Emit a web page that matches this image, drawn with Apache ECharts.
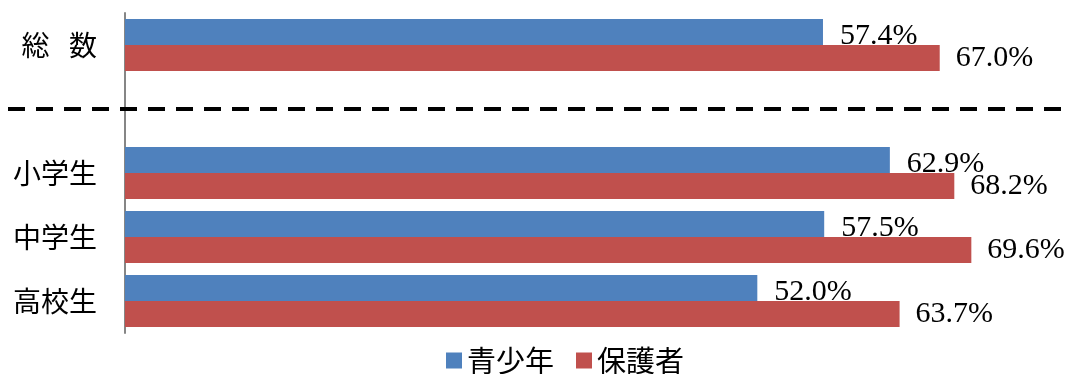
<!DOCTYPE html>
<html><head><meta charset="utf-8">
<script src="https://cdn.jsdelivr.net/npm/echarts@6/dist/echarts.min.js"></script>
<style>html,body{margin:0;padding:0;background:#fff}#c{width:1069px;height:374px}</style>
</head><body><div id="c"></div>
<script>
const categories = ['総\u2002\u2009数', '', '小学生', '中学生', '高校生'];
const seriesNames = ['青少年', '保護者'];
const youth = [57.4, null, 62.9, 57.5, 52.0];
const parents = [67.0, null, 68.2, 69.6, 63.7];
const separatorCategory = '';

const chart = echarts.init(document.getElementById('c'), null, {renderer: 'canvas'});
const labelFont = {fontFamily: 'Liberation Serif', fontSize: 30, color: '#000'};
chart.setOption({
  animation: false,
  grid: {left: 125, right: 32, top: 13, bottom: 41, containLabel: false},
  xAxis: {type: 'value', min: 0, max: 75, show: false},
  yAxis: {
    type: 'category', data: categories, inverse: true,
    axisLine: {show: true, lineStyle: {color: '#868686', width: 2}},
    axisTick: {show: false},
    axisLabel: {fontFamily: 'Noto Sans CJK JP', fontSize: 28, color: '#000', margin: 28}
  },
  legend: {
    top: 341, left: 441, itemWidth: 16, itemHeight: 16, itemGap: 22,
    icon: 'rect',
    textStyle: {fontFamily: 'Noto Sans CJK JP', fontSize: 29, color: '#000'},
    data: seriesNames
  },
  series: [
    {name: seriesNames[0], type: 'bar', data: youth, barGap: '0%', barCategoryGap: '19%',
     itemStyle: {color: '#4F81BD'},
     label: {show: true, position: 'right', distance: 17, offset: [0, 4], formatter: p => p.value.toFixed(1) + '%', ...labelFont}},
    {name: seriesNames[1], type: 'bar', data: parents, barGap: '0%', barCategoryGap: '19%',
     itemStyle: {color: '#C0504D'},
     label: {show: true, position: 'right', distance: 16, formatter: p => p.value.toFixed(1) + '%', ...labelFont}}
  ]
});
const y = chart.convertToPixel({yAxisIndex: 0}, separatorCategory);
chart.setOption({
  graphic: [{type: 'line', shape: {x1: 8, y1: y, x2: 1062, y2: y},
    style: {stroke: '#000', lineWidth: 4, lineDash: [17, 11]}, z: 10}]
});
</script></body></html>
